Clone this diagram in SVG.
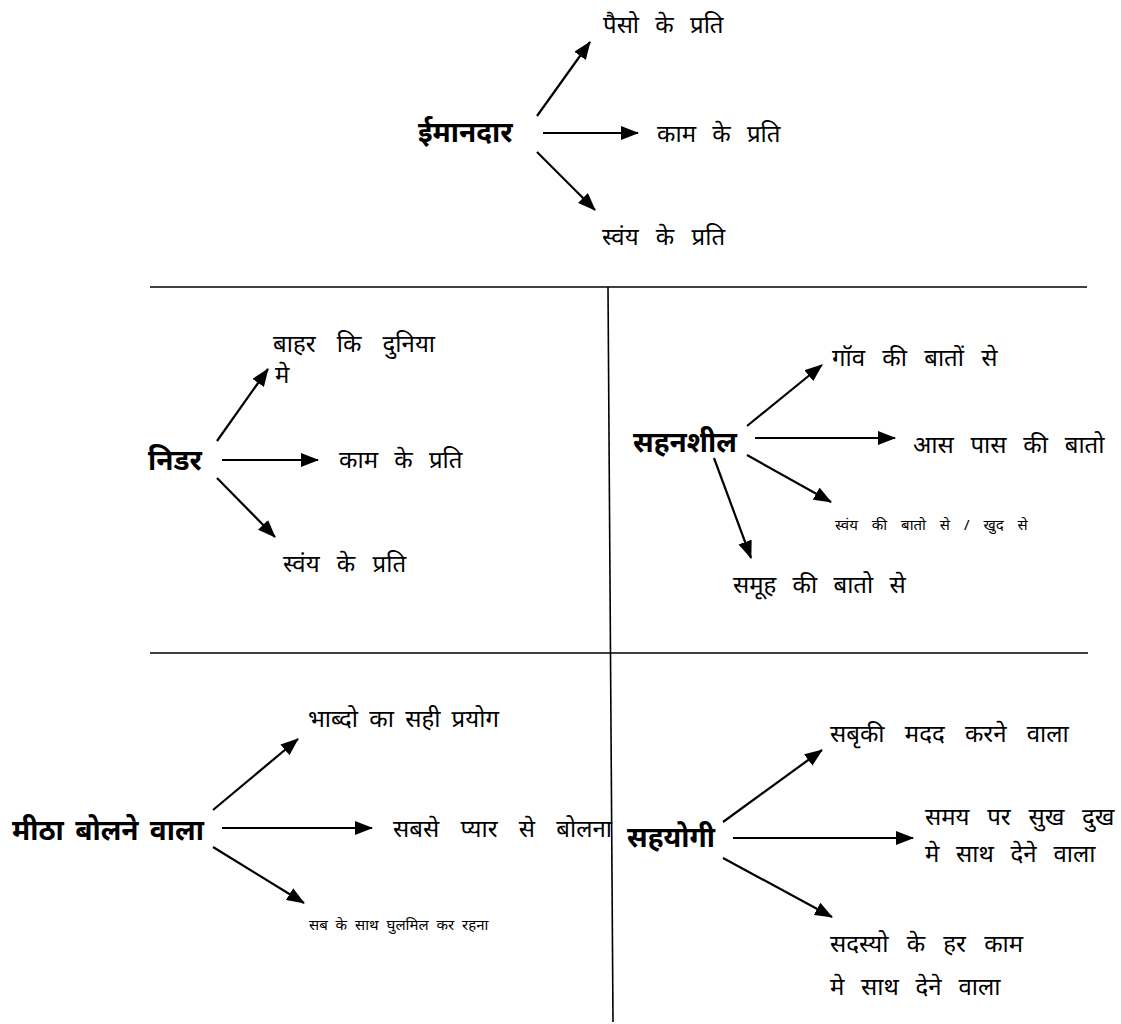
<svg xmlns="http://www.w3.org/2000/svg" width="1121" height="1024" viewBox="0 0 1121 1024">
<defs>
<marker id="ah" markerUnits="userSpaceOnUse" markerWidth="18" markerHeight="14" viewBox="0 0 18 14" refX="17" refY="7" orient="auto">
<path d="M0,0 L18,7 L0,14 Z" fill="#000"/>
</marker>
</defs>
<style>
text{font-family:"Noto Sans","Noto Sans Devanagari","Lohit Devanagari",sans-serif;fill:#000}
.h{font-size:28px;font-weight:bold}
.t{font-size:24px}
.s{font-size:15px}
.c line{stroke:#000;stroke-width:2.2;marker-end:url(#ah)}
.d line{stroke:#000;stroke-width:1.6}
</style>
<rect width="1121" height="1024" fill="#fff"/>
<g class="d" id="dividers">
<line x1="150" y1="287" x2="1087" y2="287"/>
<line x1="150" y1="653" x2="1088" y2="653"/>
<line x1="608" y1="287" x2="613" y2="1022"/>
</g>
<g class="c" id="connectors">
<line x1="537" y1="116" x2="590" y2="42"/>
<line x1="543" y1="133" x2="638" y2="133"/>
<line x1="537" y1="152" x2="595" y2="210"/>
<line x1="217" y1="441" x2="268" y2="369"/>
<line x1="222" y1="460" x2="318" y2="460"/>
<line x1="217" y1="478" x2="275" y2="537"/>
<line x1="747" y1="426" x2="822" y2="365"/>
<line x1="755" y1="438" x2="895" y2="438"/>
<line x1="747" y1="455" x2="831" y2="502"/>
<line x1="714" y1="458" x2="751" y2="558"/>
<line x1="213" y1="810" x2="298" y2="739"/>
<line x1="222" y1="828" x2="372" y2="828"/>
<line x1="213" y1="847" x2="304" y2="903"/>
<line x1="723" y1="822" x2="822" y2="750"/>
<line x1="733" y1="838" x2="913" y2="838"/>
<line x1="723" y1="858" x2="832" y2="917"/>
</g>
<g id="imandar">
<text class="h" x="418" y="142">ईमानदार</text>
<text class="t" x="603" y="33" word-spacing="10">पैसो के प्रति</text>
<text class="t" x="657" y="142" word-spacing="10">काम के प्रति</text>
<text class="t" x="602" y="245" word-spacing="11">स्वंय के प्रति</text>
</g>
<g id="nidar">
<text class="h" x="148" y="470">निडर</text>
<text class="t" x="273" y="352" word-spacing="15">बाहर कि दुनिया</text>
<text class="t" x="275" y="383">मे</text>
<text class="t" x="339" y="468" word-spacing="10">काम के प्रति</text>
<text class="t" x="283" y="572" word-spacing="11">स्वंय के प्रति</text>
</g>
<g id="sahanshil">
<text class="h" x="633" y="452">सहनशील</text>
<text class="t" x="832" y="366" word-spacing="11">गॉव की बातों से</text>
<text class="t" x="913" y="453" word-spacing="10.5">आस पास की बातो</text>
<text class="s" x="835" y="530" word-spacing="10">स्वंय की बातो से / खुद से</text>
<text class="t" x="733" y="593" word-spacing="10">समूह की बातो से</text>
</g>
<g id="meetha">
<text class="h" x="12" y="840" word-spacing="4">मीठा बोलने वाला</text>
<text class="t" x="308" y="727" word-spacing="5">भाब्दो का सही प्रयोग</text>
<text class="t" x="393" y="837" word-spacing="15">सबसे प्यार से बोलना</text>
<text class="s" x="309" y="930" word-spacing="4">सब के साथ घुलमिल कर रहना</text>
</g>
<g id="sahyogi">
<text class="h" x="627" y="847">सहयोगी</text>
<text class="t" x="830" y="742" word-spacing="14">सबृकी मदद करने वाला</text>
<text class="t" x="925" y="825" word-spacing="11.5">समय पर सुख दुख</text>
<text class="t" x="925" y="862" word-spacing="10.5">मे साथ देने वाला</text>
<text class="t" x="830" y="952" word-spacing="12">सदस्यो के हर काम</text>
<text class="t" x="830" y="995" word-spacing="10.5">मे साथ देने वाला</text>
</g>
</svg>
